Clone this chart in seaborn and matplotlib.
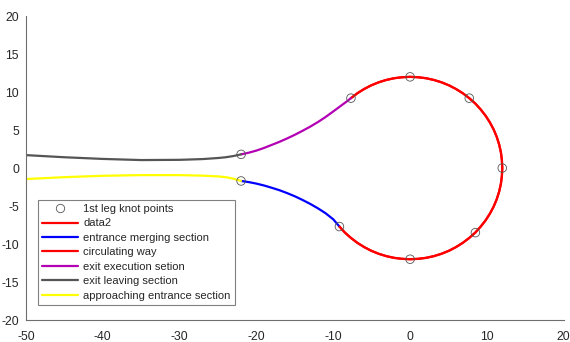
import matplotlib
matplotlib.use("Agg")
import matplotlib.pyplot as plt
import seaborn as sns
import pandas as pd
from matplotlib.lines import Line2D

# ---- data ----
knot_x = [-22.0, -22.0, -9.2, 0.0, 8.5, 12.0, 7.7, 0.0, -7.7]
knot_y = [-1.7, 1.8, -7.7, -12.0, -8.5, 0.0, 9.2, 12.0, 9.2]

approach_x = [-50, -45, -40, -35, -30, -27, -25, -24, -23, -22]
approach_y = [-1.45, -1.2, -1.02, -0.93, -0.93, -1.0, -1.1, -1.2, -1.4, -1.7]

leave_x = [-50, -45, -40, -35, -30, -27, -25, -24, -23, -22]
leave_y = [1.7, 1.42, 1.2, 1.05, 1.08, 1.18, 1.32, 1.42, 1.58, 1.8]

entrance_x = [-22, -21, -20, -19, -18, -17, -16, -15, -14, -13, -12, -11, -10, -9.2]
entrance_y = [-1.7, -1.85, -2.05, -2.3, -2.6, -2.92, -3.3, -3.72, -4.2, -4.72,
              -5.3, -5.95, -6.75, -7.7]

exit_x = [-22, -21, -20, -19, -18, -17, -16, -15, -14, -13, -12, -11, -10, -9, -8.3, -7.7]
exit_y = [1.8, 2.02, 2.3, 2.65, 3.05, 3.45, 3.9, 4.38, 4.9, 5.45, 6.05, 6.72,
          7.45, 8.2, 8.72, 9.2]

circ_x = [-9.19, -8.49, -7.71, -6.88, -6.0, -5.07, -4.1, -3.11, -2.08, -1.05,
          0.0, 1.05, 2.08, 3.11, 4.1, 5.07, 6.0, 6.88, 7.71, 8.49, 9.19, 9.83,
          10.39, 10.88, 11.28, 11.59, 11.82, 11.95, 12.0, 11.95, 11.82, 11.59,
          11.28, 10.88, 10.39, 9.83, 9.19, 8.49, 7.71, 6.88, 6.0, 5.07, 4.1,
          3.11, 2.08, 1.05, 0.0, -1.05, -2.08, -3.11, -4.1, -5.07, -6.0, -6.88,
          -7.71]
circ_y = [-7.71, -8.49, -9.19, -9.83, -10.39, -10.88, -11.28, -11.59, -11.82,
          -11.95, -12.0, -11.95, -11.82, -11.59, -11.28, -10.88, -10.39, -9.83,
          -9.19, -8.49, -7.71, -6.88, -6.0, -5.07, -4.1, -3.11, -2.08, -1.05,
          0.0, 1.05, 2.08, 3.11, 4.1, 5.07, 6.0, 6.88, 7.71, 8.49, 9.19, 9.83,
          10.39, 10.88, 11.28, 11.59, 11.82, 11.95, 12.0, 11.95, 11.82, 11.59,
          11.28, 10.88, 10.39, 9.83, 9.19]

x_ticks = [-50, -40, -30, -20, -10, 0, 10, 20]
y_ticks = [-20, -15, -10, -5, 0, 5, 10, 15, 20]

labels = ["1st leg knot points", "data2", "entrance merging section",
          "circulating way", "exit execution setion", "exit leaving section",
          "approaching entrance section"]

# ---- styling ----
sns.set_style("white")
plt.rcParams["font.family"] = ["Liberation Sans", "DejaVu Sans"]

fig = plt.figure(figsize=(5.7, 3.42), dpi=100)
ax = fig.add_axes([0.0456, 0.0643, 0.9434, 0.8887])

RED = "#FF0000"
BLUE = "#0000FF"
PURPLE = "#B400B4"
GRAY = "#555555"
YELLOW = "#FFFF00"
LW = 1.6

segments = [
    (circ_x, circ_y, RED),          # data2
    (entrance_x, entrance_y, BLUE),
    (circ_x, circ_y, RED),          # circulating way
    (exit_x, exit_y, PURPLE),
    (leave_x, leave_y, GRAY),
    (approach_x, approach_y, YELLOW),
]
for xs, ys, c in segments:
    df = pd.DataFrame({"x": xs, "y": ys})
    sns.lineplot(data=df, x="x", y="y", sort=False, estimator=None,
                 color=c, linewidth=LW, ax=ax, legend=False)

kdf = pd.DataFrame({"x": knot_x, "y": knot_y})
sns.scatterplot(data=kdf, x="x", y="y", marker="o", s=38,
                facecolors="none", edgecolor="#555555", linewidth=0.6,
                ax=ax, legend=False, zorder=5)

ax.set_xlim(-50, 20)
ax.set_ylim(-20, 20)
ax.set_xticks(x_ticks)
ax.set_yticks(y_ticks)
ax.set_xticklabels([str(v) for v in x_ticks])
ax.set_yticklabels([str(v) for v in y_ticks])
ax.set_xlabel("")
ax.set_ylabel("")

for s in ["top", "right"]:
    ax.spines[s].set_visible(False)
for s in ["left", "bottom"]:
    ax.spines[s].set_color("#6e6e6e")
    ax.spines[s].set_linewidth(0.8)
ax.tick_params(direction="in", length=3, width=0.6, colors="#6e6e6e",
               labelcolor="#262626", labelsize=8.8)
ax.tick_params(axis="x", pad=8)
ax.tick_params(axis="y", pad=5)

handles = [
    Line2D([], [], linestyle="none", marker="o", markersize=6,
           markerfacecolor="none", markeredgecolor="#555555", markeredgewidth=0.6),
    Line2D([], [], color=RED, linewidth=LW),
    Line2D([], [], color=BLUE, linewidth=LW),
    Line2D([], [], color=RED, linewidth=LW),
    Line2D([], [], color=PURPLE, linewidth=LW),
    Line2D([], [], color=GRAY, linewidth=LW),
    Line2D([], [], color=YELLOW, linewidth=LW),
]
leg = ax.legend(handles, labels, loc="lower left", bbox_to_anchor=(0.022, 0.049),
                fontsize=8, frameon=True, fancybox=False, framealpha=1,
                edgecolor="#808080", handlelength=3.2, handletextpad=0.5,
                labelspacing=0.4, borderpad=0.4, borderaxespad=0,
                numpoints=1)
leg.get_frame().set_linewidth(0.8)

fig.savefig("out.png", dpi=100)
